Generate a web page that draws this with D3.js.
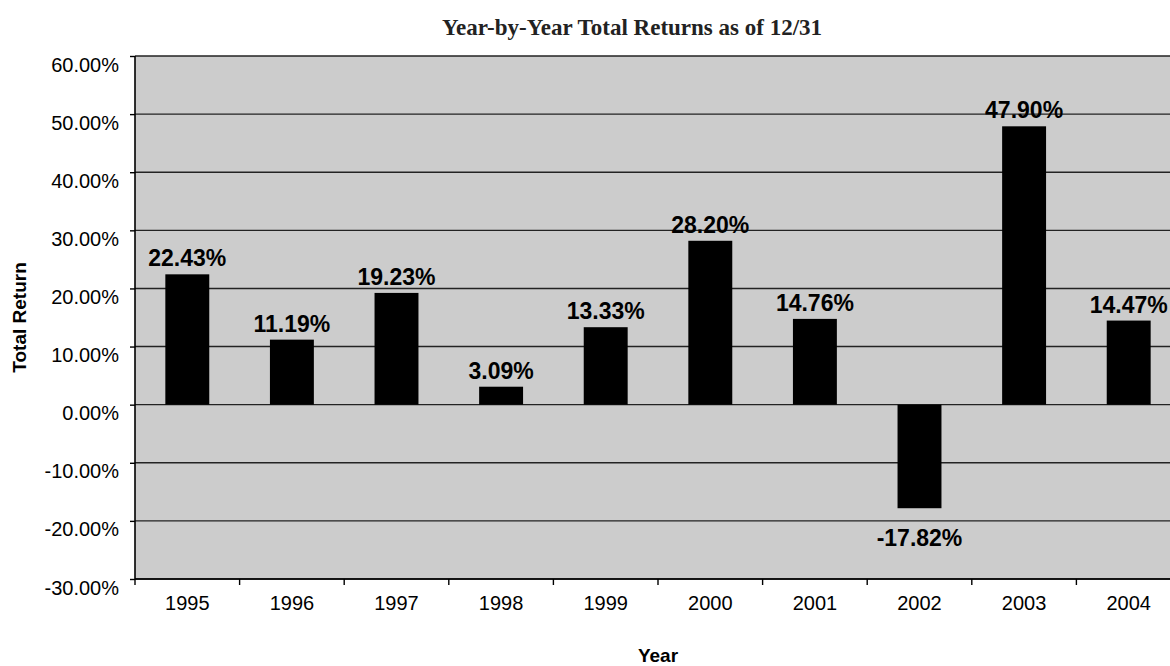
<!DOCTYPE html>
<html>
<head>
<meta charset="utf-8">
<script src="https://cdn.jsdelivr.net/npm/d3@7"></script>
<style>
  body { margin: 0; background: #fff; }
  svg { display: block; }
  .tick text { font-family: "Liberation Sans", Arial, sans-serif; font-size: 20px; fill: #000; }
  .bar-label { font-family: "Liberation Sans", Arial, sans-serif; font-size: 23px; font-weight: bold; }
  .axis-title { font-family: "Liberation Sans", Arial, sans-serif; font-size: 19px; font-weight: bold; }
  .chart-title { font-family: "Liberation Serif", "Times New Roman", serif; font-size: 23px; font-weight: bold; fill: #222; }
</style>
</head>
<body>
<div id="chart"></div>
<script>
var years = ["1995", "1996", "1997", "1998", "1999", "2000", "2001", "2002", "2003", "2004"],
    returns = [22.43, 11.19, 19.23, 3.09, 13.33, 28.20, 14.76, -17.82, 47.90, 14.47],
    yTicks = [-30, -20, -10, 0, 10, 20, 30, 40, 50, 60];

var W = 1170, H = 666,
    PLOT_LEFT = 135, PLOT_TOP = 56,
    PLOT_W = 1046, PLOT_H = 523,
    PCT = function(v) { return v.toFixed(2) + "%"; };

var svg = d3.select("#chart").append("svg")
  .attr("width", W)
  .attr("height", H);

var x = d3.scaleBand()
  .domain(years)
  .range([PLOT_LEFT, PLOT_LEFT + PLOT_W])
  .paddingInner(0.58)
  .paddingOuter(0.29);

var y = d3.scaleLinear()
  .domain([-30, 60])
  .range([PLOT_TOP + PLOT_H, PLOT_TOP]);

// plot background
svg.append("rect")
  .attr("x", PLOT_LEFT).attr("y", PLOT_TOP)
  .attr("width", PLOT_W).attr("height", PLOT_H)
  .attr("fill", "#cccccc");

// gridlines
svg.append("g").selectAll("line")
  .data(yTicks)
  .join("line")
  .attr("x1", PLOT_LEFT).attr("x2", PLOT_LEFT + PLOT_W)
  .attr("y1", function(d) { return y(d); })
  .attr("y2", function(d) { return y(d); })
  .attr("stroke", "#222")
  .attr("stroke-width", 1.4);

// y axis
var yAxis = svg.append("g")
  .attr("transform", "translate(" + PLOT_LEFT + ",0)")
  .call(d3.axisLeft(y).tickValues(yTicks).tickSize(5).tickPadding(11).tickFormat(PCT));
yAxis.select(".domain").remove();
yAxis.selectAll(".tick line").attr("stroke", "#000").attr("stroke-width", 1.4);
yAxis.selectAll(".tick text").attr("dy", "0.75em").attr("y", 0);

// x axis ticks at category boundaries
var half = (x.step() - x.bandwidth()) / 2,
    bounds = years.map(function(d) { return x(d) - half; }).concat([x(years[years.length - 1]) + x.bandwidth() + half]);

svg.append("g").selectAll("line")
  .data(bounds)
  .join("line")
  .attr("x1", function(d) { return d; }).attr("x2", function(d) { return d; })
  .attr("y1", y(-30)).attr("y2", y(-30) + 6)
  .attr("stroke", "#000")
  .attr("stroke-width", 1.4);

svg.append("g").attr("class", "tick").selectAll("text")
  .data(years)
  .join("text")
  .attr("x", function(d) { return x(d) + x.bandwidth() / 2; })
  .attr("y", y(-30) + 31)
  .attr("text-anchor", "middle")
  .text(function(d) { return d; });

// plot border (left and bottom axis lines)
svg.append("path")
  .attr("d", "M" + PLOT_LEFT + "," + PLOT_TOP + "V" + (PLOT_TOP + PLOT_H) + "H" + (PLOT_LEFT + PLOT_W))
  .attr("fill", "none")
  .attr("stroke", "#000")
  .attr("stroke-width", 1.6);

// bars
svg.append("g").selectAll("rect")
  .data(returns)
  .join("rect")
  .attr("x", function(d, i) { return x(years[i]); })
  .attr("width", x.bandwidth())
  .attr("y", function(d) { return y(Math.max(0, d)); })
  .attr("height", function(d) { return Math.abs(y(d) - y(0)); })
  .attr("fill", "#000");

// value labels
svg.append("g").selectAll("text")
  .data(returns)
  .join("text")
  .attr("class", "bar-label")
  .attr("x", function(d, i) { return x(years[i]) + x.bandwidth() / 2; })
  .attr("y", function(d) { return d >= 0 ? y(d) - 8 : y(d) + 38; })
  .attr("text-anchor", "middle")
  .text(PCT);

// titles
svg.append("text")
  .attr("class", "chart-title")
  .attr("x", 632).attr("y", 35)
  .attr("text-anchor", "middle")
  .text("Year-by-Year Total Returns as of 12/31");

svg.append("text")
  .attr("class", "axis-title")
  .attr("transform", "translate(26," + (PLOT_TOP + PLOT_H / 2) + ") rotate(-90)")
  .attr("text-anchor", "middle")
  .text("Total Return");

svg.append("text")
  .attr("class", "axis-title")
  .attr("x", PLOT_LEFT + PLOT_W / 2).attr("y", 662)
  .attr("text-anchor", "middle")
  .text("Year");
</script>
</body>
</html>
